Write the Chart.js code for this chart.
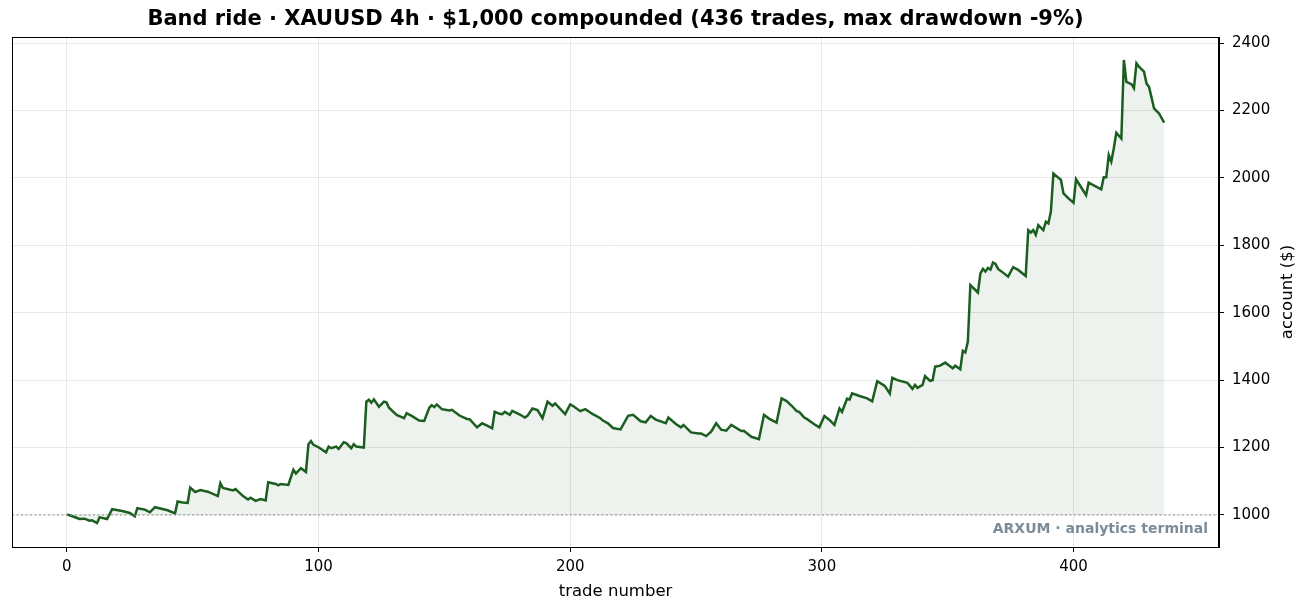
<!DOCTYPE html>
<html>
<head>
<meta charset="utf-8">
<script src="https://cdn.jsdelivr.net/npm/chart.js@4.4.1/dist/chart.umd.min.js"></script>
<style>
  html, body { margin: 0; padding: 0; background: #fff; }
  canvas { display: block; }
</style>
</head>
<body>
<canvas id="equity" width="1309" height="613"></canvas>
<script>
// trade number at each vertex of the equity curve
var trades = [0, 3, 5, 7, 9, 10, 12, 13, 16, 18, 22, 25, 27, 28, 31, 33, 35, 40, 43, 44,
    46, 48, 49, 51, 53, 56, 60, 61, 62, 66, 67, 70, 72, 73, 75, 77, 79, 80, 83, 84,
    85, 88, 90, 91, 93, 95, 96, 97, 98, 100, 103, 104, 105, 107, 108, 110, 111, 113, 114, 115,
    118, 119, 120, 121, 122, 124, 126, 127, 128, 131, 134, 135, 137, 140, 142, 144, 145, 146, 147, 149,
    152, 153, 156, 159, 160, 163, 165, 167, 169, 170, 172, 173, 174, 176, 177, 180, 182, 183, 185, 187,
    189, 191, 193, 194, 198, 200, 201, 204, 206, 209, 212, 213, 215, 217, 220, 223, 225, 228, 230, 232,
    234, 238, 239, 242, 244, 245, 248, 251, 252, 254, 256, 258, 260, 262, 264, 268, 269, 272, 275, 277,
    279, 282, 284, 286, 288, 290, 291, 293, 294, 297, 299, 301, 303, 305, 307, 308, 310, 311, 312, 315,
    318, 320, 322, 325, 327, 328, 330, 334, 336, 337, 338, 340, 341, 343, 344, 345, 347, 349, 352, 353,
    355, 356, 357, 358, 359, 362, 363, 364, 365, 366, 367, 368, 369, 370, 372, 374, 376, 378, 381, 382,
    383, 384, 385, 386, 388, 389, 390, 391, 392, 395, 396, 398, 400, 401, 405, 406, 411, 412, 413, 414,
    415, 416, 417, 419, 420, 421, 423, 424, 425, 426, 428, 429, 430, 432, 434, 436];

// account value ($) at those trades
var equity = [1002, 994, 988, 989, 983, 984, 976, 993, 988, 1017, 1012, 1006, 996, 1020, 1016, 1008, 1023, 1014, 1005, 1040,
    1037, 1036, 1081, 1068, 1074, 1069, 1056, 1094, 1080, 1073, 1077, 1056, 1046, 1051, 1042, 1047, 1043, 1097, 1092, 1088,
    1092, 1089, 1134, 1123, 1139, 1128, 1210, 1219, 1208, 1201, 1186, 1203, 1198, 1203, 1196, 1216, 1213, 1198, 1210, 1203,
    1200, 1336, 1342, 1333, 1343, 1321, 1336, 1334, 1318, 1297, 1287, 1302, 1294, 1280, 1279, 1318, 1326, 1320, 1328, 1314,
    1310, 1312, 1295, 1285, 1284, 1260, 1272, 1265, 1257, 1306, 1300, 1299, 1306, 1297, 1309, 1298, 1289, 1294, 1316, 1311,
    1287, 1336, 1324, 1331, 1299, 1328, 1324, 1308, 1314, 1299, 1287, 1280, 1272, 1258, 1254, 1294, 1297, 1278, 1275, 1294,
    1283, 1272, 1289, 1270, 1260, 1267, 1245, 1242, 1242, 1234, 1247, 1272, 1253, 1250, 1267, 1249, 1250, 1232, 1225, 1297,
    1286, 1274, 1346, 1338, 1324, 1308, 1306, 1289, 1285, 1269, 1260, 1294, 1282, 1267, 1316, 1306, 1345, 1342, 1361, 1353,
    1346, 1337, 1397, 1383, 1360, 1407, 1400, 1392, 1374, 1386, 1377, 1386, 1412, 1398, 1400, 1440, 1443, 1452, 1435, 1443,
    1432, 1487, 1482, 1514, 1682, 1660, 1717, 1730, 1722, 1733, 1728, 1749, 1745, 1730, 1719, 1707, 1735, 1727, 1709, 1845,
    1838, 1845, 1831, 1860, 1845, 1870, 1865, 1900, 2013, 1994, 1954, 1939, 1926, 1996, 1949, 1986, 1966, 2002, 2002, 2068,
    2048, 2088, 2134, 2117, 2350, 2285, 2278, 2266, 2340, 2330, 2315, 2280, 2270, 2206, 2191, 2164];

var xTicks = [0, 100, 200, 300, 400];
var yTicks = [1000, 1200, 1400, 1600, 1800, 2000, 2200, 2400];
var startBalance = 1000;

var titleText = 'Band ride \u00b7 XAUUSD 4h \u00b7 $1,000 compounded (436 trades, max drawdown -9%)';
var xTitle = 'trade number';
var yTitle = 'account ($)';
var watermark = 'ARXUM \u00b7 analytics terminal';

var X_MIN = -21.8, X_MAX = 457.8;
var Y_MIN = 905, Y_MAX = 2418;
var FONT = "'DejaVu Sans', 'Liberation Sans', sans-serif";

var points = [];
for (var i = 0; i < trades.length; i++) {
    points.push({x: trades[i], y: equity[i]});
}

// title, axis titles, watermark and the top/left frame lines
var decorations = {
    id: 'decorations',
    afterDraw: function (chart) {
        var ctx = chart.ctx;
        var a = chart.chartArea;
        ctx.save();
        ctx.strokeStyle = '#000';
        ctx.lineWidth = 1;
        ctx.strokeRect(a.left + 0.5, a.top + 0.5, a.right - a.left - 1, a.bottom - a.top);

        ctx.fillStyle = '#000';
        ctx.textAlign = 'center';
        ctx.textBaseline = 'middle';
        ctx.font = 'bold 21px ' + FONT;
        ctx.fillText(titleText, (a.left + a.right) / 2, 20);

        ctx.font = '16.5px ' + FONT;
        ctx.fillText(xTitle, (a.left + a.right) / 2, 592);

        ctx.save();
        ctx.translate(1288, (a.top + a.bottom) / 2);
        ctx.rotate(-Math.PI / 2);
        ctx.fillText(yTitle, 0, 0);
        ctx.restore();

        ctx.font = 'bold 14px ' + FONT;
        ctx.fillStyle = '#7b8c98';
        ctx.textAlign = 'right';
        ctx.textBaseline = 'alphabetic';
        ctx.fillText(watermark, a.right - 11, a.bottom - 14);
        ctx.restore();
    }
};

var ctxEquity = document.getElementById('equity').getContext('2d');
var EquityChart = new Chart(ctxEquity, {
    type: 'line',
    data: {
        datasets: [
            {
                data: [{x: X_MIN, y: startBalance}, {x: X_MAX, y: startBalance}],
                borderColor: '#8f8f8f',
                borderWidth: 1.2,
                borderDash: [2, 2.5],
                pointRadius: 0,
                fill: false
            },
            {
                data: points,
                borderColor: '#1b5e20',
                borderWidth: 2.5,
                pointRadius: 0,
                tension: 0,
                fill: {value: startBalance},
                backgroundColor: 'rgba(27, 94, 32, 0.08)'
            }
        ]
    },
    options: {
        responsive: false,
        animation: false,
        layout: {padding: {left: 12, top: 37, right: 0, bottom: 0}},
        plugins: {
            legend: {display: false},
            tooltip: {enabled: false},
            title: {display: false}
        },
        scales: {
            x: {
                type: 'linear',
                min: X_MIN,
                max: X_MAX,
                afterBuildTicks: function (scale) {
                    scale.ticks = xTicks.map(function (v) { return {value: v}; });
                },
                afterFit: function (scale) { scale.height = 66; },
                grid: {color: '#e8e8e8', tickColor: '#000', tickLength: 5, lineWidth: 1},
                border: {color: '#000', width: 1},
                ticks: {
                    color: '#000', font: {family: FONT, size: 15}, padding: 6, maxRotation: 0,
                    callback: function (v) { return String(v); }
                }
            },
            y: {
                type: 'linear',
                position: 'right',
                min: Y_MIN,
                max: Y_MAX,
                afterBuildTicks: function (scale) {
                    scale.ticks = yTicks.map(function (v) { return {value: v}; });
                },
                afterFit: function (scale) { scale.width = 90; },
                grid: {color: '#e8e8e8', tickColor: '#000', tickLength: 5, lineWidth: 1},
                border: {color: '#000', width: 1},
                ticks: {
                    color: '#000', font: {family: FONT, size: 15}, padding: 8,
                    callback: function (v) { return String(v); }
                }
            }
        }
    },
    plugins: [decorations]
});
</script>
</body>
</html>
